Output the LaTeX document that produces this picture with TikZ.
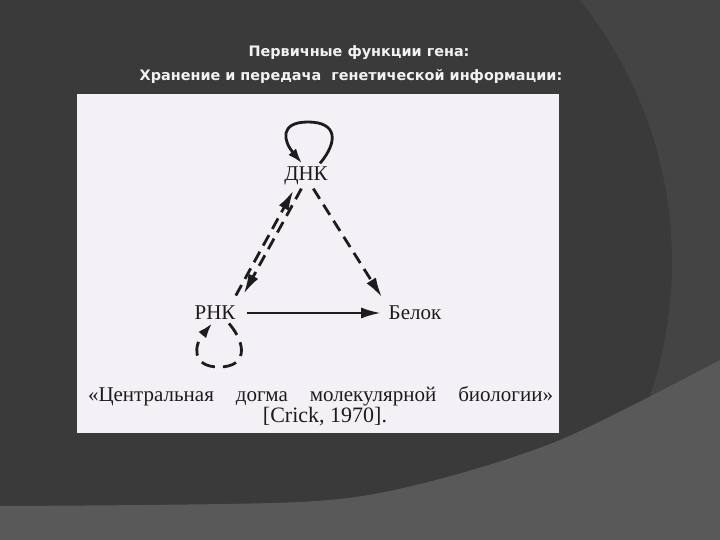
\documentclass[tikz,border=0pt]{standalone}
\usepackage{fontspec}
\setmainfont{Liberation Serif}
\newfontfamily\titlefont{DejaVu Sans}
\usetikzlibrary{arrows.meta,positioning}

\definecolor{bgdark}{HTML}{3A3A3A}
\definecolor{bgmid}{HTML}{444444}
\definecolor{bglight}{HTML}{595959}
\definecolor{panel}{HTML}{F4F1F6}
\definecolor{ink}{HTML}{1C1C1C}

\begin{document}
\begin{tikzpicture}[x=1pt,y=-1pt,on grid,
	lbl/.style={font=\fontsize{21}{24}\selectfont,text=ink},
	caption/.style={lbl,anchor=base,inner sep=0pt},
	heading/.style={font=\titlefont\bfseries\fontsize{14.4}{18}\selectfont,text=white!95!black,anchor=base},
	flow/.style={-{Latex[length=20pt,width=11pt]},line width=2.8pt,draw=ink},
	dashflow/.style={flow,dash pattern=on 12pt off 7pt},
	loopflow/.style={-{Latex[length=15pt,width=10pt]},line width=2.8pt,draw=ink}]
	\useasboundingbox (0,0) rectangle (720,540);

	% background
	\begin{scope}
		\clip (0,0) rectangle (720,540);
		\fill[bgdark] (0,0) rectangle (720,540);
		\fill[bgmid,even odd rule] (0,0) rectangle (720,540) (254,262) circle (418pt);
		\fill[bglight] plot[smooth] coordinates {(0,506) (300,502) (420,484) (560,440) (720,360)}
			-- (720,540) -- (0,540) -- cycle;
	\end{scope}

	% headings
	\node[heading] (title1) at (359,57) {Первичные функции гена:};
	\node[heading] (title2) at (351,81) {Хранение и передача\ \ генетической информации:};

	% scanned panel
	\fill[panel] (77,94) rectangle (559,433);

	\node[lbl] (dna) at (306,176) {ДНК};
	\node[lbl] (rna) [below left=137pt and 91pt of dna] {РНК};
	\node[lbl] (protein) [right=200pt of rna] {Белок};
	\coordinate[above=54pt of dna,xshift=2pt] (dnatop);
	\coordinate[below=54pt of rna,xshift=4pt] (rnabottom);

	\draw[dashflow,shorten >=10pt] (dna.-110) -- (rna.north east);
	\draw[dashflow,shorten <=8pt,shorten >=2pt] ([xshift=-7pt]rna.north east) -- ([xshift=-7pt]dna.-110);
	\draw[dashflow,shorten >=6pt] (dna.-60) -- (protein.north west);
	\draw[flow,shorten <=8pt,shorten >=4pt] (rna) -- (protein);
	% self loops
	\draw[loopflow] ([xshift=14pt]dna.north) to[out=50,in=0,distance=29pt] (dnatop)
		to[out=180,in=130,distance=29pt] ([xshift=-4pt]dna.north);
	\draw[loopflow,dash pattern=on 14pt off 8pt] ([xshift=14pt]rna.south) to[out=-50,in=0,distance=28pt] (rnabottom)
		to[out=180,in=-130,distance=28pt] ([xshift=-3pt]rna.south);

	\node[caption] (dogma) at (320.5,401) {\makebox[465pt][s]{«Центральная догма молекулярной биологии»}};
	\node[caption,font=\fontsize{22}{26}\selectfont] (crick) at (325,422) {[Crick, 1970].};
\end{tikzpicture}
\end{document}
